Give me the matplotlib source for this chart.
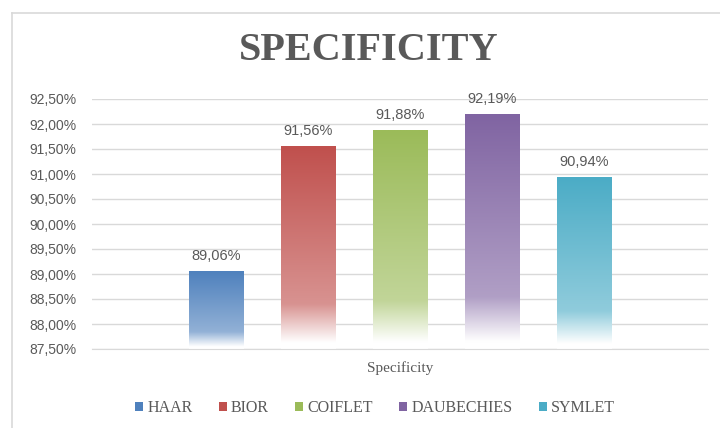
import numpy as np
import matplotlib
matplotlib.use("Agg")
import matplotlib.pyplot as plt
from matplotlib.colors import to_rgb
from matplotlib.patches import Patch
from matplotlib.lines import Line2D

# data
series = ["HAAR", "BIOR", "COIFLET", "DAUBECHIES", "SYMLET"]
values = [89.06, 91.56, 91.88, 92.19, 90.94]
colors = ["#4F81BD", "#C0504D", "#9BBB59", "#8064A2", "#4BACC6"]
category = "Specificity"
yticks = [87.5, 88.0, 88.5, 89.0, 89.5, 90.0, 90.5, 91.0, 91.5, 92.0, 92.5]

serif = ["Liberation Serif", "DejaVu Serif"]
sans = ["Liberation Sans", "DejaVu Sans"]
grey = "#595959"

fig = plt.figure(figsize=(7.2, 4.28), dpi=100)
ax = fig.add_axes([92/720, 1-349/428, 616/720, 250/428])

ymin, ymax = yticks[0], yticks[-1]
step = 0.1494
width = 0.0877


def fade(col, n=200):
    # solid at the top, slowly lighter, then white at the base
    t = np.linspace(0, 1, n)
    tint = np.interp(t, [0, 0.78, 0.97, 1.0], [0, 0.38, 1.0, 1.0])
    c = np.array(to_rgb(col))
    rgb = c[None, :] * (1 - tint[:, None]) + tint[:, None]
    return rgb[:, None, :]


for i, (name, v, col) in enumerate(zip(series, values, colors)):
    x = (i - 2) * step
    ax.imshow(fade(col), extent=[x - width/2, x + width/2, ymin, v],
              aspect="auto", origin="upper", zorder=2, interpolation="bilinear")
    ax.annotate(f"{v:.2f}%".replace(".", ","), (x, v), xytext=(0, 6),
                textcoords="offset points", ha="center", va="bottom",
                fontsize=10.5, color=grey, family=sans)

ax.set_xlim(-0.5, 0.5)
ax.set_ylim(ymin, ymax)
ax.set_aspect("auto")
ax.set_yticks(yticks)
ax.set_yticklabels([f"{t:.2f}%".replace(".", ",") for t in yticks],
                   fontsize=10, color=grey, family=sans)
ax.set_xticks([0])
ax.set_xticklabels([category], fontsize=11, color=grey, family=serif)
ax.tick_params(axis="both", length=0)
ax.tick_params(axis="y", pad=11)
ax.tick_params(axis="x", pad=9)
ax.yaxis.grid(True, color="#D9D9D9", lw=1)
ax.set_axisbelow(True)
for s in ["left", "right", "top"]:
    ax.spines[s].set_visible(False)
ax.spines["bottom"].set_color("#D9D9D9")

fig.text(369/720, 1-50/428, "SPECIFICITY", ha="center", va="center",
         fontsize=29, fontweight="bold", color=grey, family=serif)

handles = [Patch(facecolor=c, edgecolor="none") for c in colors]
fig.legend(handles, series, loc="center", bbox_to_anchor=(375/720, 1-408/428),
           ncol=5, frameon=False, handlelength=0.5, handleheight=0.5,
           handletextpad=0.25, columnspacing=1.65,
           prop={"family": serif, "size": 11.5}, labelcolor=grey)

# chart border (cut off at right and bottom)
fig.add_artist(Line2D([12/720, 12/720], [0, 1-13/428], color="#D9D9D9", lw=1.2))
fig.add_artist(Line2D([12/720, 1], [1-13/428, 1-13/428], color="#D9D9D9", lw=1.2))

fig.savefig("out.png", dpi=100)
